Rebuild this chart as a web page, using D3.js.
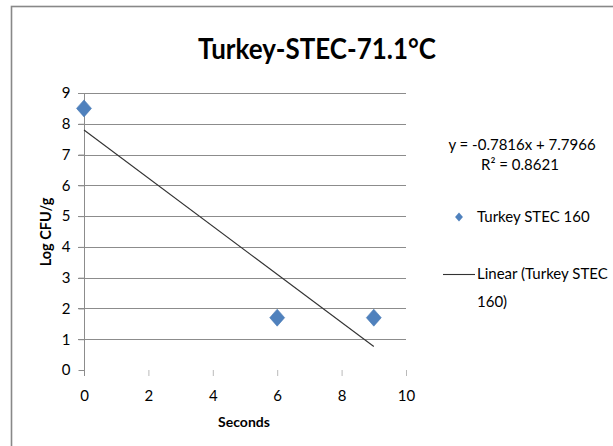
<!DOCTYPE html>
<html>
<head>
<meta charset="utf-8">
<script src="https://cdn.jsdelivr.net/npm/d3@7"></script>
<style>
  html, body { margin: 0; padding: 0; background: #fff; }
  svg { display: block; font-family: Lato, "Open Sans", sans-serif; }
</style>
</head>
<body>
<svg id="chart" width="613" height="446"></svg>
<script>
// Survival data: time (s) vs log CFU/g
const seconds = [0, 6, 9];
const logCfu = [8.5, 1.7, 1.7];
const xTicks = [0, 2, 4, 6, 8, 10];
const yTicks = [0, 1, 2, 3, 4, 5, 6, 7, 8, 9];
// Linear trendline fitted to the series
const trendSlope = -0.7816;
const trendIntercept = 7.7966;
const trendR2 = 0.8621;
const trendRange = [0, 9];
const seriesName = "Turkey STEC 160";

const svg = d3.select("#chart");
const x = d3.scaleLinear().domain([0, 10]).range([84, 406]);
const y = d3.scaleLinear().domain([0, 9]).range([370, 93]);
const grid = "#8c8c8c";
const blue = "#4f81bd";

// Chart frame (continues past the right and bottom edges)
svg.append("rect").attr("x", 11.5).attr("y", 6.5).attr("width", 800).attr("height", 800)
  .attr("fill", "none").attr("stroke", "#888").attr("stroke-width", 1.6);

// Title
svg.append("text").attr("x", 317).attr("y", 59).attr("text-anchor", "middle")
  .attr("font-size", 29).attr("font-weight", 700).attr("fill", "#000")
  .attr("textLength", 238).attr("lengthAdjust", "spacingAndGlyphs")
  .text("Turkey-STEC-71.1°C");

// Horizontal gridlines (levels 1..9)
svg.append("g").selectAll("line").data(yTicks.filter(d => d > 0)).join("line")
  .attr("x1", 78).attr("x2", x(10)).attr("y1", d => Math.round(y(d)) + 0.5).attr("y2", d => Math.round(y(d)) + 0.5)
  .attr("stroke", grid).attr("stroke-width", 1);

// Y axis with outside ticks
const yAxis = d3.axisLeft(y).tickValues(yTicks).tickSize(6).tickPadding(8).tickFormat(d3.format("d"));
const gy = svg.append("g").attr("transform", `translate(${x(0) + 0.5},0)`).call(yAxis);
gy.select(".domain").attr("d", `M0,${y(9)}V${y(0) + 6}`).attr("stroke", grid);
gy.selectAll(".tick line").attr("stroke", grid);
gy.selectAll(".tick text").attr("font-size", 15).attr("fill", "#000")
  .attr("font-family", "Lato, sans-serif");

// X axis: tick marks only, no baseline
const xAxis = d3.axisBottom(x).tickValues(xTicks).tickSize(6).tickPadding(14).tickFormat(d3.format("d"));
const gx = svg.append("g").attr("transform", `translate(0,${y(0)})`).call(xAxis);
gx.select(".domain").remove();
gx.selectAll(".tick line").attr("stroke", grid).attr("stroke-opacity", 0.6);
gx.selectAll(".tick text").attr("font-size", 15).attr("fill", "#000")
  .attr("font-family", "Lato, sans-serif");

// Axis titles
svg.append("text").attr("x", 244).attr("y", 427).attr("text-anchor", "middle")
  .attr("font-size", 14).attr("font-weight", 700).text("Seconds");
svg.append("text").attr("transform", "translate(51,232) rotate(-90)").attr("text-anchor", "middle")
  .attr("font-size", 14.5).attr("font-weight", 700).text("Log CFU/g");

// Trendline
const line = d3.line().x(d => x(d)).y(d => y(trendIntercept + trendSlope * d));
svg.append("path").datum(trendRange).attr("d", line)
  .attr("fill", "none").attr("stroke", "#333").attr("stroke-width", 1.1);

// Diamond marker shape (slightly taller than wide)
const diamond = {
  draw(ctx, size) {
    const h = Math.sqrt(size) / 2;
    const w = h * 0.88;
    ctx.moveTo(0, -h); ctx.lineTo(w, 0); ctx.lineTo(0, h); ctx.lineTo(-w, 0); ctx.closePath();
  }
};

// Data points
const pts = seconds.map((s, i) => [s, logCfu[i]]);
svg.append("g").selectAll("path").data(pts).join("path")
  .attr("transform", d => `translate(${x(d[0])},${y(d[1])})`)
  .attr("d", d3.symbol().type(diamond).size(17 * 17))
  .attr("fill", blue).attr("stroke", "#4a7ab5").attr("stroke-width", 0.6);

// Equation + legend
const leg = svg.append("g").attr("font-size", 15).attr("fill", "#000");
leg.append("text").attr("x", 522).attr("y", 150).attr("text-anchor", "middle")
  .text(`y = ${trendSlope}x + ${trendIntercept}`);
leg.append("text").attr("x", 520).attr("y", 170).attr("text-anchor", "middle")
  .text(`R² = ${trendR2}`);
leg.append("path").attr("transform", "translate(459,217)")
  .attr("d", d3.symbol().type(diamond).size(9 * 9)).attr("fill", blue);
leg.append("text").attr("x", 477).attr("y", 222).text(seriesName);
leg.append("line").attr("x1", 443).attr("x2", 475).attr("y1", 274.5).attr("y2", 274.5)
  .attr("stroke", "#333").attr("stroke-width", 1.1);
leg.append("text").attr("x", 477).attr("y", 279).text(`Linear (Turkey STEC`);
leg.append("text").attr("x", 477).attr("y", 307).text(`160)`);
</script>
</body>
</html>
